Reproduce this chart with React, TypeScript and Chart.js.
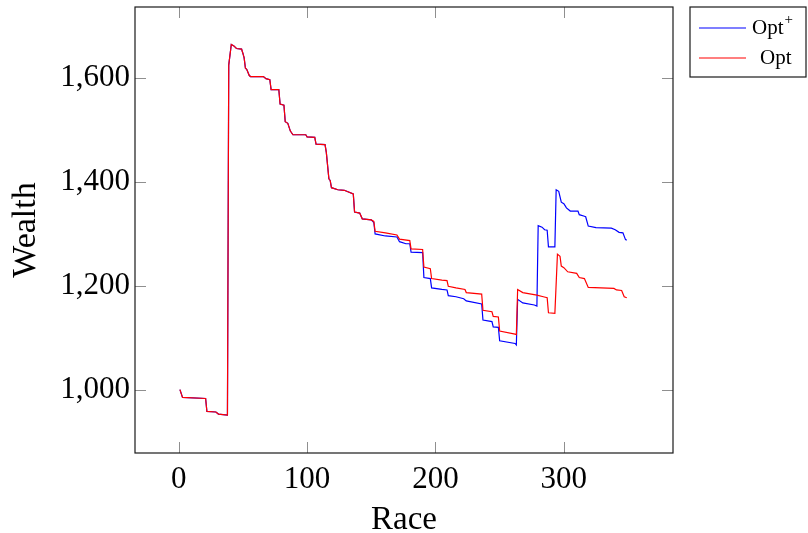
import { useEffect, useRef } from "react";
import { Chart, registerables } from "chart.js";

Chart.register(...registerables);

// Shared path (both strategies identical until race ~150)
const sharedRace = [1, 3, 21, 22, 29, 31, 38, 39, 41, 43, 45, 49, 50, 51, 52, 53, 55, 56, 66, 68, 71, 72, 78, 79, 82, 83, 85, 87, 89, 99, 100, 106, 107, 114, 115, 117, 118, 119, 124, 129, 136, 137, 141, 143, 150];
const sharedWealth = [1000, 985, 983, 958, 957, 953, 951, 1625, 1665, 1662, 1657, 1656, 1648, 1639, 1619, 1617, 1605, 1603, 1603, 1599, 1597, 1578, 1578, 1550, 1548, 1516, 1513, 1498, 1491, 1491, 1487, 1486, 1473, 1472, 1457, 1406, 1403, 1389, 1385, 1384, 1377, 1342, 1340, 1329, 1327];

// Opt+ (blue) after divergence
const optPlusRace = [152, 153, 161, 170, 172, 177, 180, 181, 190, 191, 196, 197, 205, 209, 210, 216, 222, 224, 236, 237, 244, 245, 249, 250, 262, 263, 264, 268, 277, 279, 280, 283, 285, 287, 288, 293, 294, 296, 298, 300, 302, 305, 311, 312, 316, 317, 319, 325, 337, 340, 343, 346, 348, 349];
const optPlusWealth = [1322, 1300, 1296, 1294, 1285, 1281, 1281, 1265, 1264, 1216, 1214, 1196, 1193, 1192, 1181, 1179, 1175, 1171, 1165, 1134, 1131, 1121, 1120, 1094, 1089, 1086, 1174, 1167, 1163, 1161, 1316, 1313, 1308, 1307, 1275, 1275, 1385, 1382, 1361, 1358, 1350, 1344, 1344, 1337, 1334, 1333, 1315, 1312, 1311, 1308, 1303, 1302, 1289, 1288];

// Opt (red) after divergence
const optRace = [152, 153, 161, 170, 172, 180, 181, 190, 191, 196, 197, 205, 209, 210, 216, 223, 224, 236, 237, 244, 245, 249, 250, 262, 263, 264, 268, 279, 284, 287, 288, 293, 295, 297, 298, 300, 303, 310, 312, 316, 319, 339, 341, 345, 347, 349];
const optWealth = [1324, 1305, 1302, 1298, 1290, 1287, 1271, 1270, 1236, 1233, 1214, 1211, 1210, 1199, 1196, 1193, 1187, 1184, 1153, 1150, 1141, 1140, 1113, 1107, 1106, 1193, 1187, 1182, 1179, 1177, 1148, 1147, 1261, 1257, 1238, 1235, 1227, 1224, 1216, 1214, 1197, 1195, 1192, 1191, 1179, 1177];

const xTicks = [0, 100, 200, 300];
const yTicks = [1000, 1200, 1400, 1600];

const FONT = '"Liberation Serif", "DejaVu Serif", serif';

function toPoints(xs: number[], ys: number[]) {
  return xs.map((x, i) => ({ x, y: ys[i] }));
}

const framePlugin = {
  id: "pgfFrame",
  afterDatasetsDraw(chart: any) {
    const { ctx, chartArea: a, scales } = chart;
    ctx.save();
    const tl = 11;
    ctx.strokeStyle = "#8f8f8f";
    ctx.lineWidth = 1;
    ctx.beginPath();
    for (const v of xTicks) {
      const px = Math.round(scales.x.getPixelForValue(v)) + 0.5;
      ctx.moveTo(px, a.bottom);
      ctx.lineTo(px, a.bottom - tl);
      ctx.moveTo(px, a.top);
      ctx.lineTo(px, a.top + tl);
    }
    for (const v of yTicks) {
      const py = Math.round(scales.y.getPixelForValue(v)) + 0.5;
      ctx.moveTo(a.left, py);
      ctx.lineTo(a.left + tl, py);
      ctx.moveTo(a.right, py);
      ctx.lineTo(a.right - tl, py);
    }
    ctx.stroke();
    ctx.strokeStyle = "#1a1a1a";
    ctx.lineWidth = 1.2;
    ctx.strokeRect(a.left, a.top, a.right - a.left, a.bottom - a.top);

    // legend box
    const lx = a.right + 17;
    const ly = a.top;
    const lw = 806 - lx;
    const lh = 70;
    ctx.strokeStyle = "#1a1a1a";
    ctx.lineWidth = 1.2;
    ctx.strokeRect(lx, ly, lw, lh);
    const entries = chart.data.datasets.map((d: any) => d).sort((p: any, q: any) => p.legendOrder - q.legendOrder);
    entries.forEach((d: any, i: number) => {
      const cy = ly + 21 + i * 30;
      ctx.strokeStyle = d.borderColor;
      ctx.lineWidth = 1.2;
      ctx.beginPath();
      ctx.moveTo(lx + 9, cy);
      ctx.lineTo(lx + 56, cy);
      ctx.stroke();
      ctx.fillStyle = "#000";
      ctx.textBaseline = "middle";
      ctx.font = `21px ${FONT}`;
      const base: string = d.label.replace("+", "");
      const tw = ctx.measureText(base).width;
      const plus = d.label.includes("+");
      const tx = plus ? lx + 62 : lx + 70;
      ctx.fillText(base, tx, cy);
      if (plus) {
        ctx.font = `15px ${FONT}`;
        ctx.fillText("+", tx + tw + 1, cy - 8);
      }
    });
    ctx.restore();
  },
};

export default function App() {
  const ref = useRef<HTMLCanvasElement | null>(null);
  useEffect(() => {
    if (!ref.current) return;
    const chart = new Chart(ref.current, {
      type: "line",
      data: {
        datasets: [
          {
            label: "Opt+",
            data: toPoints(sharedRace.concat(optPlusRace), sharedWealth.concat(optPlusWealth)),
            borderColor: "#0000ff",
            backgroundColor: "#0000ff",
            borderWidth: 1.2,
            pointRadius: 0,
            tension: 0,
            fill: false,
            order: 1,
            legendOrder: 0,
          } as any,
          {
            label: "Opt",
            data: toPoints(sharedRace.concat(optRace), sharedWealth.concat(optWealth)),
            borderColor: "#ff0000",
            backgroundColor: "#ff0000",
            borderWidth: 1.2,
            pointRadius: 0,
            tension: 0,
            fill: false,
            order: 0,
            legendOrder: 1,
          } as any,
        ],
      },
      options: {
        animation: false,
        responsive: false,
        devicePixelRatio: 1,
        layout: { padding: { top: 7, right: 135, left: 0, bottom: 0 } },
        plugins: { legend: { display: false }, tooltip: { enabled: false } },
        scales: {
          x: {
            type: "linear",
            min: -34,
            max: 385,
            afterBuildTicks: (s: any) => {
              s.ticks = xTicks.map((v) => ({ value: v }));
            },
            afterFit: (s: any) => {
              s.height = 80;
              s.paddingLeft = 0;
              s.paddingRight = 0;
            },
            grid: { display: false, drawTicks: false },
            border: { display: false },
            ticks: {
              color: "#000",
              font: { family: FONT, size: 31 },
              padding: 8,
              maxRotation: 0,
              autoSkip: false,
              callback: (v: any) => String(v),
            },
            title: {
              display: true,
              text: "Race",
              color: "#000",
              font: { family: FONT, size: 33, lineHeight: 1 },
              padding: { top: 0, bottom: -4 },
            },
          },
          y: {
            type: "linear",
            min: 878,
            max: 1737,
            afterBuildTicks: (s: any) => {
              s.ticks = yTicks.map((v) => ({ value: v }));
            },
            afterFit: (s: any) => {
              s.width = 135;
              s.paddingTop = 0;
              s.paddingBottom = 0;
            },
            grid: { display: false, drawTicks: false },
            border: { display: false },
            ticks: {
              color: "#000",
              font: { family: FONT, size: 31 },
              padding: 5,
              autoSkip: false,
              callback: (v: any) => Number(v).toLocaleString("en-US"),
            },
            title: {
              display: true,
              text: "Wealth",
              color: "#000",
              font: { family: FONT, size: 34, lineHeight: 1 },
              padding: { top: 9, bottom: 0 },
            },
          },
        },
      },
      plugins: [framePlugin],
    });
    return () => chart.destroy();
  }, []);
  return (
    <div style={{ position: "fixed", left: 0, top: 0, width: 808, height: 533 }}>
      <canvas ref={ref} width={808} height={533} style={{ display: "block" }} />
    </div>
  );
}
